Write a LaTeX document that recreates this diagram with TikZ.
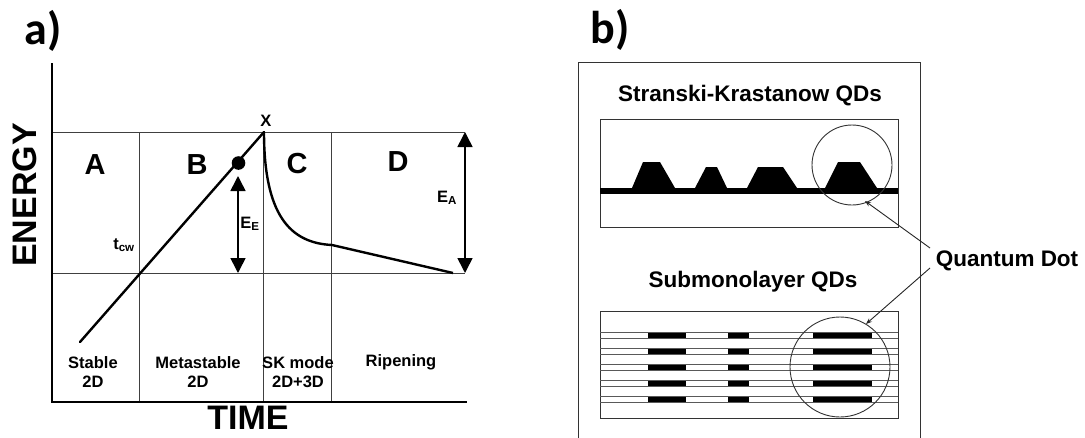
\documentclass[tikz,border=0pt]{standalone}
\usepackage{fontspec}
\setmainfont{Liberation Sans}
\newfontfamily\panelfont{Carlito}
\usetikzlibrary{arrows.meta,positioning}
\tikzset{
     lbl/.style        = {inner sep=0pt, font=\bfseries\fontsize{16.5}{19}\selectfont, align=center},
     biglbl/.style     = {inner sep=0pt, font=\bfseries\fontsize{34}{34}\selectfont},
     phase/.style      = {inner sep=0pt, font=\bfseries\fontsize{29}{29}\selectfont},
     panel/.style      = {inner sep=0pt, font=\panelfont\bfseries\fontsize{46}{46}\selectfont},
     title/.style      = {inner sep=0pt, font=\bfseries\fontsize{22.5}{24}\selectfont},
      axisline/.style  = {black, line width=2.6pt},
      gridline/.style  = {black!75, line width=0.9pt},
      growth/.style    = {black, line width=2.4pt},
      gaparrow/.style  = {black, line width=1.6pt, {Triangle[length=15pt,width=15pt]}-{Triangle[length=15pt,width=15pt]}},
      boxline/.style   = {black!80, line width=0.9pt},
      layerline/.style = {black!65, line width=0.8pt},
      pointer/.style   = {black!85, line width=0.9pt, -{Stealth[length=6pt,width=4.5pt]}},
    }

\begin{document}
\begin{tikzpicture}[x=1pt,y=-1pt]
    \useasboundingbox[fill=white] (0,0) rectangle (1085,437);

    % ---- a) energy vs. time
    \node [panel] (pa) at (43,31) {a)};

    \draw [gridline] (52,132) -- (465,132);
    \draw [gridline] (52,273) -- (465,273);
    \foreach \x in {139,263,331}
        \draw [gridline] (\x,132) -- (\x,402);
    \draw [axisline] (52,63) -- (52,402) -- (467,402);

    \coordinate (start) at (80,342);
    \coordinate (top)   at (264,132);
    \coordinate (knee)  at (332,245);
    \coordinate (end)   at (453,273);
    \draw [growth, line cap=round] (start) -- (top);
    \draw [growth] (top) .. controls (264,215) and (290,243) .. (knee) -- (end);
    \fill (238.5,163) circle (6.8pt);

    \coordinate (ee top) at (238,176);
    \coordinate (ee bot) at (238,273);
    \draw [gaparrow] (ee top) -- (ee bot);
    \coordinate (ea top) at (465,132);
    \coordinate (ea bot) at (465,273);
    \draw [gaparrow] (ea top) -- (ea bot);

    \node [lbl] (x)   at (266,121) {X};
    \node [lbl] (ee)  at (250,224) {E\textsubscript{E}};
    \node [lbl] (ea)  at (447,198) {E\textsubscript{A}};
    \node [lbl] (tcw) at (124,245) {t\textsubscript{cw}};

    \node [phase] (A) at (95,165)  {A};
    \node [phase] (B) at (197,165) {B};
    \node [phase] (C) at (297,164) {C};
    \node [phase] (D) at (398,162) {D};

    \node [lbl] (stable) at (93,372)  {Stable\\2D};
    \node [lbl] (meta)   at (198,372) {Metastable\\2D};
    \node [lbl] (sk)     at (298,372) {SK mode\\2D+3D};
    \node [lbl] (ripen)  at (401,362) {Ripening};

    \node [biglbl, rotate=90] (energy) at (25,195) {ENERGY};
    \node [biglbl] (time) at (248,418) {TIME};

    % ---- b) the two kinds of dots
    \node [panel] (pb) at (610,30) {b)};
    \draw [boxline] (578,62) rectangle (920,460);

    \node [title] (sktitle) at (750,96) {Stranski-Krastanow QDs};
    \draw [boxline] (600,119) rectangle (898,227);
    \fill (600,188) rectangle (898,194);
    \fill (632,188) -- (643,162) -- (660,162) -- (675,188) -- cycle;
    \fill (695,188) -- (706,167) -- (717,167) -- (727,188) -- cycle;
    \fill (747,188) -- (758,167) -- (783,167) -- (797,188) -- cycle;
    \fill (825,188) -- (838,162) -- (860,162) -- (877,188) -- cycle;
    \draw [boxline] (852,165) circle (40pt);

    \node [title] (smltitle) at (753,282) {Submonolayer QDs};
    \draw [boxline] (600,311) rectangle (898,418);
    \foreach \y in {335.5,351.5,367.5,383.5,399.5} {
        \draw [layerline] (600,\y-2.9) -- (898,\y-2.9);
        \draw [layerline] (600,\y+2.9) -- (898,\y+2.9);
        \fill (648,\y-2.9) rectangle (686,\y+2.9);
        \fill (728,\y-2.9) rectangle (749,\y+2.9);
        \fill (813,\y-2.9) rectangle (872,\y+2.9);
    }
    \draw [boxline] (840,367) circle (50pt);

    \node [title] (qd) at (1007,261) {Quantum Dot};
    \coordinate (skdot)  at (865,201);
    \coordinate (smldot) at (866,324);
    \draw [pointer] (930,248) -- (skdot);
    \draw [pointer] (930,268) -- (smldot);
\end{tikzpicture}
\end{document}
